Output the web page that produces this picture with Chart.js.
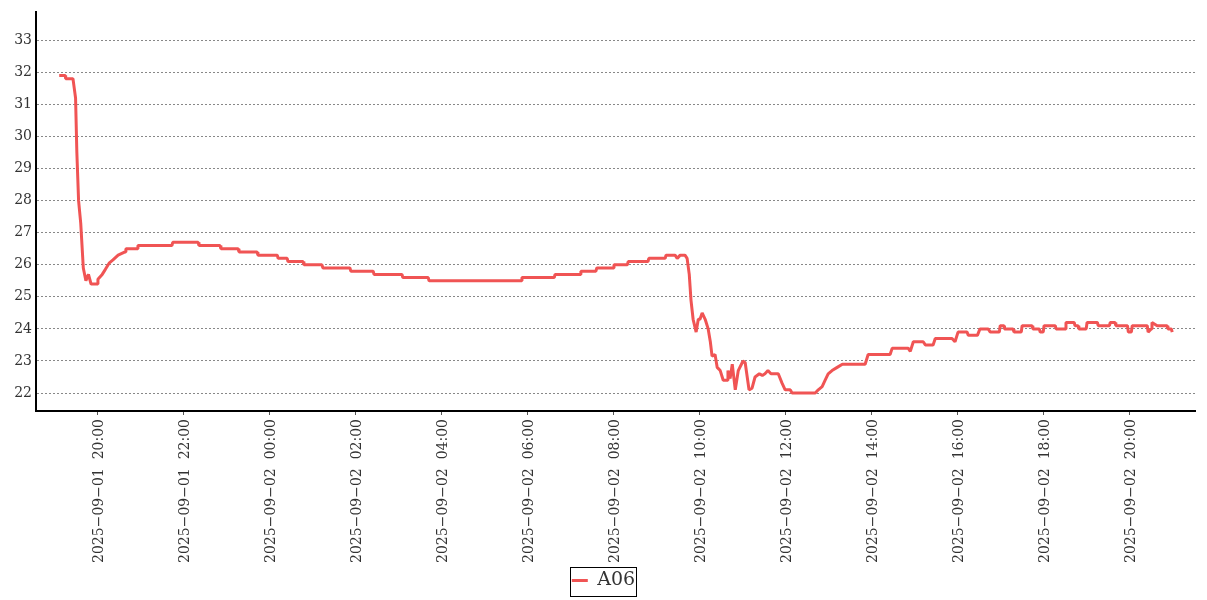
<!DOCTYPE html>
<html>
<head>
<meta charset="utf-8">
<script src="https://cdn.jsdelivr.net/npm/chart.js@4"></script>
<style>
  html, body { margin: 0; padding: 0; background: #fff; }
  #wrap { width: 1207px; height: 600px; }
</style>
</head>
<body>
<div id="wrap"><canvas id="myChart" width="1207" height="600"></canvas></div>
<script>
// hours counted from 2025-09-01 00:00
const hours = [
  19.12, 19.26, 19.27, 19.44, 19.47, 19.50, 19.53, 19.57, 19.62, 19.68, 19.74, 19.80, 19.86, 20.00,
  20.02, 20.12, 20.19, 20.28, 20.37, 20.49, 20.65, 20.67, 20.93, 20.95, 21.74, 21.76, 22.35, 22.37,
  22.86, 22.88, 23.28, 23.30, 23.72, 23.74, 24.19, 24.21, 24.42, 24.44, 24.79, 24.81, 25.23, 25.25,
  25.88, 25.90, 26.42, 26.44, 27.09, 27.11, 27.70, 27.72, 29.86, 29.88, 30.63, 30.65, 31.23, 31.25,
  31.60, 31.62, 32.00, 32.02, 32.33, 32.35, 32.81, 32.83, 33.21, 33.23, 33.44, 33.49, 33.56, 33.67,
  33.72, 33.77, 33.81, 33.86, 33.93, 33.98, 34.02, 34.07, 34.14, 34.21, 34.26, 34.30, 34.37, 34.42,
  34.49, 34.56, 34.65, 34.67, 34.72, 34.77, 34.84, 34.91, 35.02, 35.07, 35.16, 35.23, 35.30, 35.40,
  35.47, 35.53, 35.60, 35.67, 35.84, 35.93, 36.00, 36.12, 36.16, 36.70, 36.77, 36.86, 36.93, 37.00,
  37.09, 37.21, 37.33, 37.86, 37.93, 38.44, 38.49, 38.86, 38.91, 38.98, 39.21, 39.26, 39.44, 39.49,
  39.88, 39.95, 40.02, 40.23, 40.26, 40.47, 40.53, 40.72, 40.77, 40.98, 41.00, 41.09, 41.10, 41.30,
  41.32, 41.49, 41.51, 41.74, 41.76, 41.91, 41.93, 42.00, 42.02, 42.28, 42.30, 42.51, 42.53, 42.72,
  42.74, 42.81, 42.83, 43.00, 43.02, 43.26, 43.28, 43.54, 43.56, 43.67, 43.69, 43.96, 43.98, 44.05,
  44.07, 44.42, 44.44, 44.51, 44.53, 44.65, 44.88, 44.90, 44.98, 45.00
];
const temps = [
  31.9, 31.9, 31.8, 31.8, 31.5, 31.2, 29.5, 28.0, 27.3, 25.9, 25.5, 25.7, 25.4, 25.4,
  25.55, 25.7, 25.85, 26.05, 26.15, 26.3, 26.4, 26.5, 26.5, 26.6, 26.6, 26.7, 26.7, 26.6,
  26.6, 26.5, 26.5, 26.4, 26.4, 26.3, 26.3, 26.2, 26.2, 26.1, 26.1, 26.0, 26.0, 25.9,
  25.9, 25.8, 25.8, 25.7, 25.7, 25.6, 25.6, 25.5, 25.5, 25.6, 25.6, 25.7, 25.7, 25.8,
  25.8, 25.9, 25.9, 26.0, 26.0, 26.1, 26.1, 26.2, 26.2, 26.3, 26.3, 26.2, 26.3, 26.3,
  26.2, 25.7, 24.9, 24.3, 23.9, 24.3, 24.3, 24.5, 24.3, 24.0, 23.6, 23.15, 23.2, 22.8,
  22.7, 22.4, 22.4, 22.7, 22.45, 22.9, 22.1, 22.7, 23.0, 22.95, 22.1, 22.15, 22.5, 22.6,
  22.55, 22.6, 22.7, 22.6, 22.6, 22.3, 22.1, 22.1, 22.0, 22.0, 22.1, 22.2, 22.4, 22.6,
  22.7, 22.8, 22.9, 22.9, 23.2, 23.2, 23.4, 23.4, 23.3, 23.6, 23.6, 23.5, 23.5, 23.7,
  23.7, 23.6, 23.9, 23.9, 23.8, 23.8, 24.0, 24.0, 23.9, 23.9, 24.1, 24.1, 24.0, 24.0,
  23.9, 23.9, 24.1, 24.1, 24.0, 24.0, 23.9, 23.9, 24.1, 24.1, 24.0, 24.0, 24.2, 24.2,
  24.1, 24.1, 24.0, 24.0, 24.2, 24.2, 24.1, 24.1, 24.2, 24.2, 24.1, 24.1, 23.9, 23.9,
  24.1, 24.1, 23.9, 24.0, 24.2, 24.1, 24.1, 24.0, 24.0, 23.9
];
const xTicks = [20, 22, 24, 26, 28, 30, 32, 34, 36, 38, 40, 42, 44];
const yTicks = [22, 23, 24, 25, 26, 27, 28, 29, 30, 31, 32, 33];
const seriesName = "A06";

const FONT = "'DejaVu Serif', serif";
const pad = (n) => String(n).padStart(2, "0");
function hourLabel(h) {
  const day = 1 + Math.floor(h / 24);
  const hh = h % 24;
  return "2025\u221209\u2212" + pad(day) + "  " + pad(hh) + ":00";
}

// the reference legend sits inside a thin black frame
const legendBorder = {
  id: "legendBorder",
  afterDraw(chart) {
    const hb = chart.legend.legendHitBoxes[0];
    if (!hb) return;
    const ctx = chart.ctx;
    ctx.save();
    ctx.strokeStyle = "#000";
    ctx.lineWidth = 1;
    ctx.strokeRect(Math.round(hb.left - 2) + 0.5, Math.round(hb.top - 4) + 0.5, Math.round(hb.width + 3), Math.round(hb.height + 10));
    ctx.restore();
  }
};

const data = {
  datasets: [{
    label: seriesName,
    data: hours.map((h, i) => ({ x: h, y: temps[i] })),
    borderColor: "#f05454",
    backgroundColor: "#f05454",
    borderWidth: 3,
    borderJoinStyle: "bevel",
    pointRadius: 0,
    pointStyle: "line",
    tension: 0,
  }]
};

const config = {
  type: "line",
  data: data,
  plugins: [legendBorder],
  options: {
    responsive: false,
    animation: false,
    layout: { padding: { top: 8, right: 12, left: 12, bottom: 0 } },
    scales: {
      x: {
        type: "linear",
        min: 18.58,
        max: 45.53,
        afterBuildTicks: (s) => { s.ticks = xTicks.map(v => ({ value: v })); },
        afterFit: (s) => { s.height = 154; },
        ticks: {
          autoSkip: false,
          minRotation: 90,
          maxRotation: 90,
          labelOffset: 2,
          color: "#333",
          font: { family: FONT, size: 14 },
          padding: 4,
          callback: (v) => hourLabel(v),
        },
        grid: { drawOnChartArea: false, drawTicks: true, tickLength: 4, color: "#555" },
        border: { color: "#000", width: 2 },
      },
      y: {
        min: 21.44,
        max: 33.87,
        afterBuildTicks: (s) => { s.ticks = yTicks.map(v => ({ value: v })); },
        afterFit: (s) => { s.width = 24; },
        ticks: {
          color: "#333",
          font: { family: FONT, size: 14 },
          padding: 4,
        },
        grid: {
          color: "#888",
          lineWidth: 1,
          drawTicks: false,
        },
        border: { color: "#000", width: 2, dash: [2, 2] },
      },
    },
    plugins: {
      legend: {
        position: "bottom",
        labels: {
          color: "#333",
          font: { family: FONT, size: 19 },
          usePointStyle: true,
          pointStyleWidth: 16,
          padding: 6,
        },
      },
      tooltip: { enabled: false },
    },
  },
};

let myChart = new Chart(document.getElementById("myChart"), config);
</script>
</body>
</html>
